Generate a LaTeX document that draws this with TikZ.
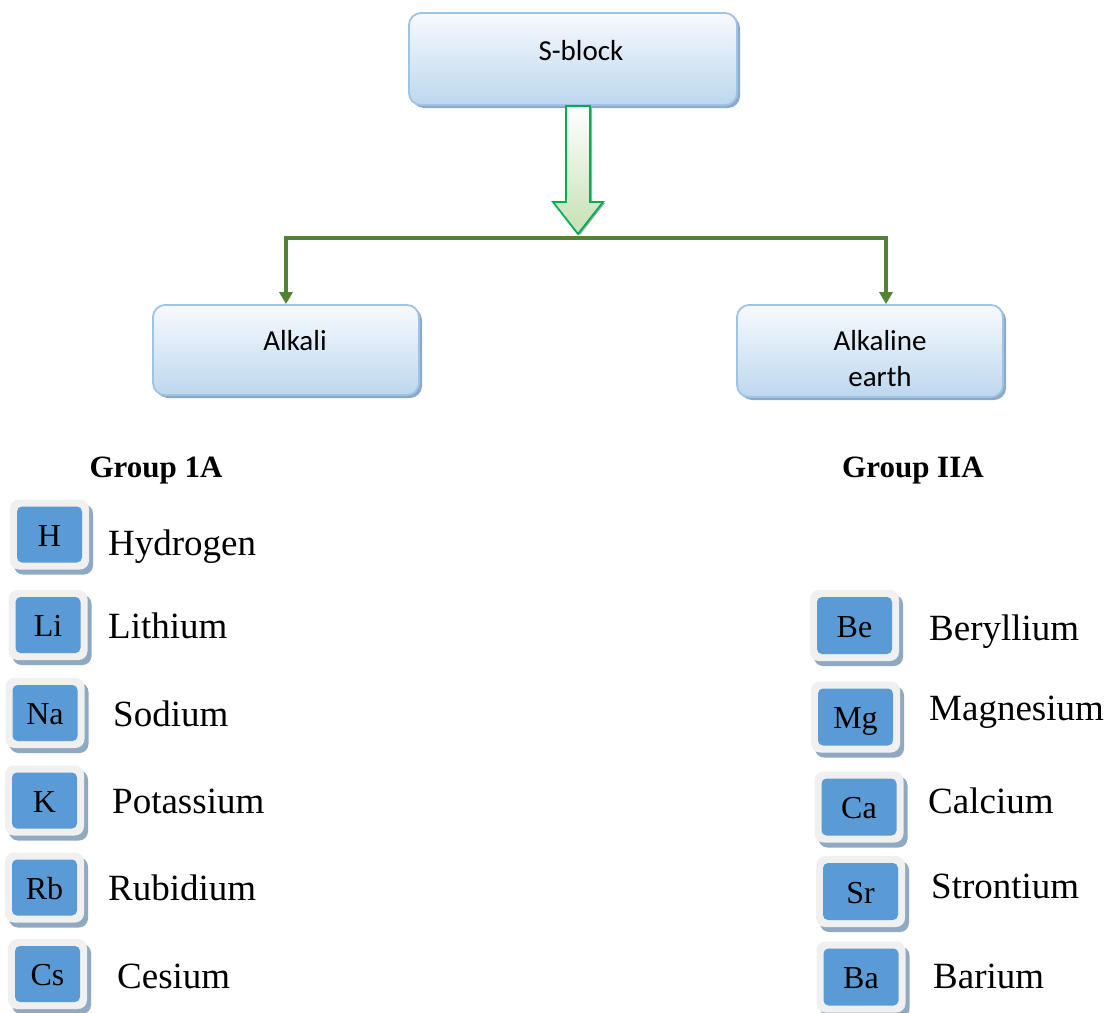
\documentclass[tikz,border=0pt]{standalone}
\usepackage{fontspec}
\setmainfont{Liberation Serif}
\newfontfamily\calibri{Carlito}
\usetikzlibrary{arrows.meta,shadows}
\definecolor{boxline}{HTML}{9DC3E6}
\definecolor{boxtop}{HTML}{F7FAFD}
\definecolor{boxbottom}{HTML}{BDD7EE}
\definecolor{boxshade}{HTML}{8EA9C8}
\definecolor{arrowline}{HTML}{00B050}
\definecolor{arrowfill}{HTML}{C5E0B4}
\definecolor{linkgreen}{HTML}{548235}
\definecolor{tileblue}{HTML}{5B9BD5}
\definecolor{tileframe}{HTML}{F0F0F0}
\definecolor{tileshade}{HTML}{8EA9C1}
\begin{document}
\begin{tikzpicture}[x=1pt, y=-1pt,
    box/.style={draw=boxline, line width=1.8pt, rounded corners=12pt,
      top color=boxtop, bottom color=boxbottom,
      drop shadow={shadow xshift=3pt, shadow yshift=-3pt, fill=boxshade, opacity=1},
      font=\calibri\fontsize{29}{36}\selectfont, align=center},
    tile/.style={fill=tileframe, rounded corners=9pt, minimum width=79pt,
      minimum height=70pt, inner sep=0pt, text height=23pt, text depth=0pt,
      drop shadow={shadow xshift=4pt, shadow yshift=-5pt, fill=tileshade, opacity=1},
      path picture={\fill[tileblue, rounded corners=5pt]
        ([shift={(7pt,-7pt)}]path picture bounding box.north west) rectangle
        ([shift={(-7pt,7pt)}]path picture bounding box.south east);},
      font=\fontsize{32}{32}\selectfont},
    widetile/.style={tile, minimum width=89pt, minimum height=71pt},
    elname/.style={anchor=base west, inner sep=0pt, font=\fontsize{37}{37}\selectfont},
    grp/.style={anchor=base, inner sep=0pt, font=\bfseries\fontsize{31}{31}\selectfont},
    bigarrow/.style={draw=arrowline, line width=1.8pt, top color=white,
      bottom color=arrowfill,
      drop shadow={shadow xshift=2pt, shadow yshift=-1pt, fill=black!35, opacity=1}},
    link/.style={draw=linkgreen, line width=3.5pt,
      -{Triangle[width=13pt,length=12pt]}}]

  \useasboundingbox (0,0) rectangle (1108,1012);

  % top of the tree
  \node[box, minimum width=328pt, minimum height=92pt,
    text height=20pt, text depth=18pt] (sblock) at (573,59)
    {\hspace*{16pt}S-block};
  \node[box, minimum width=266pt, minimum height=90pt,
    text height=20pt, text depth=20pt] (alkali) at (286,350)
    {\hspace*{18pt}Alkali};
  \node[box, minimum width=266pt, minimum height=92pt,
    text height=70pt, text depth=0pt] (earth) at (870,351)
    {\hspace*{20pt}Alkaline\\\hspace*{20pt}earth};

  \coordinate (tail) at (578,106);
  \coordinate (fork) at (578,238);
  \draw[bigarrow] (tail) ++(-12,0) -- ++(24,0) -- ++(0,96) -- ++(13,0)
    -- ++(-25,32) -- ++(-25,-32) -- ++(13,0) -- cycle;

  \draw[link] (fork) -| (alkali.north);
  \draw[link] (fork) -| ([xshift=16pt]earth.north);

  % groups
  \node[grp] (g1) at (156,477) {Group 1A};
  \node[grp] (g2) at (913,477) {Group IIA};

  % group 1A
  \node[tile] (h)  at (49.5,534.5) {H};
  \node[tile] (li) at (48,625)     {Li};
  \node[tile] (na) at (45,713)     {Na};
  \node[tile] (k)  at (44.5,800.5) {K};
  \node[tile] (rb) at (44.5,887.5) {Rb};
  \node[tile] (cs) at (47.5,974)   {Cs};

  \node[elname] (hydrogen)  at (108,555) {Hydrogen};
  \node[elname] (lithium)   at (108,638) {Lithium};
  \node[elname] (sodium)    at (113,726) {Sodium};
  \node[elname] (potassium) at (112,813) {Potassium};
  \node[elname] (rubidium)  at (108,900) {Rubidium};
  \node[elname] (cesium)    at (117,988) {Cesium};

  % group IIA
  \node[widetile] (be) at (854.5,625.5) {Be};
  \node[widetile] (mg) at (855.5,717)   {Mg};
  \node[widetile] (ca) at (859,807)     {Ca};
  \node[widetile] (sr) at (860.5,891.5) {Sr};
  \node[widetile] (ba) at (861,977)     {Ba};

  \node[elname] (beryllium) at (929,640) {Beryllium};
  \node[elname] (magnesium) at (929,720) {Magnesium};
  \node[elname] (calcium)   at (928,813) {Calcium};
  \node[elname] (strontium) at (931,898) {Strontium};
  \node[elname] (barium)    at (933,988) {Barium};
\end{tikzpicture}
\end{document}
